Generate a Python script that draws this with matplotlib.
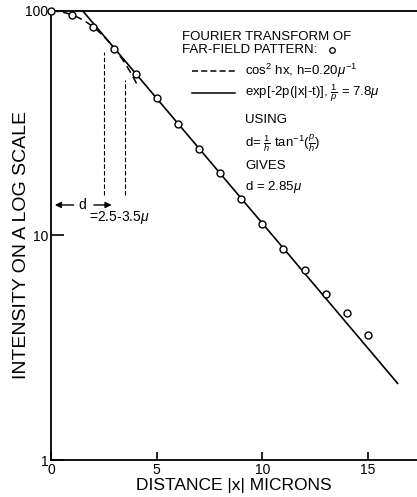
import numpy as np
import matplotlib
matplotlib.use("Agg")
from matplotlib import pyplot as plt

plt.rcParams['font.family'] = ['Liberation Sans', 'DejaVu Sans']
plt.rcParams['mathtext.fontset'] = 'custom'
plt.rcParams['mathtext.rm'] = 'Liberation Sans'
plt.rcParams['mathtext.it'] = 'Liberation Sans:italic'

# Fourier transform of the far-field pattern (percent intensity vs |x| in microns)
x_obs = [0, 1, 2, 3, 4, 5, 6, 7, 8, 9, 10, 11, 12, 13, 14, 15]
i_obs = [100, 96, 85, 68, 52.5, 40.8, 31.5, 24.4, 18.9, 14.6, 11.3, 8.75, 7.05, 5.5, 4.5, 3.6]

# mode parameters
h = 0.20        # 1/micron
inv_p = 7.8     # micron
d = 2.85        # micron
d_range = [2.5, 3.5]

x_ticks = [0, 5, 10, 15]
y_ticks = [1, 10, 100]


def main():
	fig = plt.figure(figsize=(4.17, 4.97), dpi=100)
	ax = fig.add_axes([51/417, 37/497, 366/417, 449/497])

	p = 1.0 / inv_p
	# inside: cos^2 hx
	xc = np.linspace(0, 4.1, 200)
	ax.plot(xc, 100*np.cos(h*xc)**2, color='k', lw=1.1, ls=(0, (5, 3)), clip_on=False)
	# outside: exponential tail, matched at x = d
	x_t = d + np.log(np.cos(h*d)**2)/(2*p)
	xe = np.linspace(x_t, 16.4, 200)
	ax.plot(xe, 100*np.cos(h*d)**2*np.exp(-2*p*(xe - d)), color='k', lw=1.2, clip_on=False)

	ax.plot(x_obs, i_obs, 'o', mfc='white', mec='k', ms=5, mew=1.0, clip_on=False, zorder=5)

	ax.set_yscale('log')
	ax.set_xlim(0, 17.32)
	ax.set_ylim(1, 100)
	ax.set_xticks(x_ticks)
	ax.set_xticklabels([str(v) for v in x_ticks])
	ax.set_yticks(y_ticks)
	ax.set_yticklabels(['1', '10', '100'])
	ax.yaxis.set_minor_locator(matplotlib.ticker.NullLocator())
	ax.tick_params(axis='both', direction='in', labelsize=10, pad=2, width=1.2)
	ax.tick_params(axis='y', length=9)
	ax.tick_params(axis='x', length=6)
	ax.spines['right'].set_visible(False)
	for s in ['left', 'bottom', 'top']:
		ax.spines[s].set_linewidth(1.3)

	ax.set_xlabel('DISTANCE |x| MICRONS', fontsize=12.5, labelpad=1)
	fig.text(22/417, 0.507, 'INTENSITY ON A LOG SCALE', rotation=90, fontsize=14,
			 ha='center', va='center')

	# d range markers
	ax.axvline(d_range[0], 0.590, 0.909, color='k', lw=0.8, ls=(0, (4, 2)))
	ax.axvline(d_range[1], 0.590, 0.846, color='k', lw=0.8, ls=(0, (4, 2)))
	tr = ('data', 'axes fraction')
	ax.annotate('', xy=(0.05, 0.568), xytext=(1.2, 0.568), xycoords=tr, textcoords=tr,
				arrowprops=dict(arrowstyle='-|>', color='k', lw=1.0, mutation_scale=9))
	ax.annotate('', xy=(3.0, 0.568), xytext=(1.9, 0.568), xycoords=tr, textcoords=tr,
				arrowprops=dict(arrowstyle='-|>', color='k', lw=1.0, mutation_scale=9))
	ax.text(1.5, 0.568, 'd', transform=ax.get_xaxis_transform(), ha='center', va='center', fontsize=10)
	ax.text(1.8, 0.541, r'=2.5-3.5$\mu$', transform=ax.get_xaxis_transform(), ha='left', va='center', fontsize=10)

	# key
	fs = 9.5
	ta = ax.transAxes
	ax.text(0.358, 0.942, 'FOURIER TRANSFORM OF', transform=ta, fontsize=fs, va='center')
	ax.text(0.358, 0.913, 'FAR-FIELD PATTERN:', transform=ta, fontsize=fs, va='center')
	ax.plot([0.768], [0.913], 'o', mfc='white', mec='k', ms=4, mew=0.9, transform=ta, clip_on=False)
	ax.plot([0.385, 0.503], [0.866, 0.866], color='k', lw=1.1, ls=(0, (4, 2)), transform=ta)
	ax.text(0.530, 0.866, r'cos$^2$ hx, h=0.20$\mu^{-1}$', transform=ta, fontsize=fs, va='center')
	ax.plot([0.385, 0.503], [0.817, 0.817], color='k', lw=1.1, transform=ta)
	ax.text(0.530, 0.817, r'exp[-2p(|x|-t)], $\frac{1}{p}$ = 7.8$\mu$', transform=ta, fontsize=fs, va='center')
	ax.text(0.530, 0.757, 'USING', transform=ta, fontsize=fs, va='center')
	ax.text(0.530, 0.706, r'd= $\frac{1}{h}$ tan$^{-1}$($\frac{p}{h}$)', transform=ta, fontsize=fs, va='center')
	ax.text(0.530, 0.655, 'GIVES', transform=ta, fontsize=fs, va='center')
	ax.text(0.530, 0.608, r'd = 2.85$\mu$', transform=ta, fontsize=fs, va='center')

	fig.savefig('out.png', dpi=100)


if __name__ == '__main__':
	main()
